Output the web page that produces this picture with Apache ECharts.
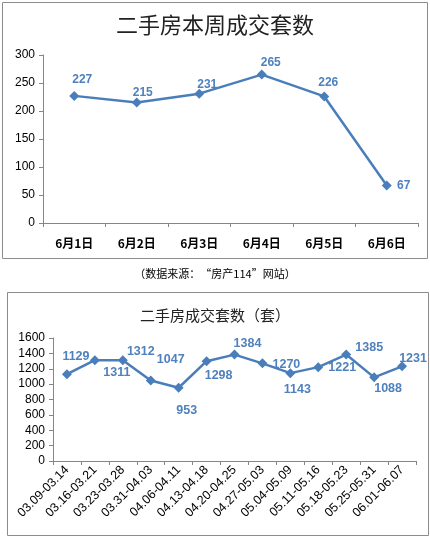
<!DOCTYPE html>
<html>
<head>
<meta charset="utf-8">
<script src="https://cdn.jsdelivr.net/npm/echarts@6/dist/echarts.min.js"></script>
<style>
  html, body { margin: 0; padding: 0; background: #fff; }
  #main { width: 430px; height: 538px; }
</style>
</head>
<body>
<div id="main"></div>
<script>
// 本周数据
const weekDays = ['6月1日', '6月2日', '6月3日', '6月4日', '6月5日', '6月6日'];
const weekDeals = [227, 215, 231, 265, 226, 67];
// 周度数据
const weekRanges = ['03.09-03.14', '03.16-03.21', '03.23-03.28', '03.31-04.03', '04.06-04.11',
  '04.13-04.18', '04.20-04.25', '04.27-05.03', '05.04-05.09', '05.11-05.16',
  '05.18-05.23', '05.25-05.31', '06.01-06.07'];
const rangeDeals = [1129, 1311, 1312, 1047, 953, 1298, 1384, 1270, 1143, 1221, 1385, 1088, 1231];

// 标签偏移（相对数据点）
const topOffsets = [[8, -16], [6, -10], [8, -9], [9, -12], [4, -14], [17, 0]];
const bottomOffsets = [[9, -18], [22, 12], [18, -9], [20, -21], [8, 23], [12, 14], [13, -11],
  [24, 1], [7, 16], [24, 0], [23, -7], [14, 11], [11, -8]];

const blue = '#4a7ebb';
const labelBlue = '#4f81bd';
const axisGray = '#868686';
const font = 'Arial, "Liberation Sans", "Noto Sans CJK SC", sans-serif';

const chart = echarts.init(document.getElementById('main'));

function withLabels(values, offsets, size) {
  return values.map((v, i) => ({
    value: v,
    label: { show: true, position: 'inside', offset: offsets[i], color: labelBlue,
      fontWeight: 'bold', fontSize: size, fontFamily: font }
  }));
}

function catAxis(idx, cats, rotate, fontSize) {
  return {
    type: 'category', gridIndex: idx, data: cats, boundaryGap: true,
    axisLine: { lineStyle: { color: axisGray, width: 1 } },
    axisTick: { show: true, length: 4, interval: 0, lineStyle: { color: axisGray } },
    axisLabel: { color: '#000', fontSize: fontSize, interval: 0, rotate: rotate,
      margin: rotate ? 7 : 14, fontWeight: rotate ? 'normal' : 'bold',
      fontFamily: rotate ? font : '"Noto Sans CJK SC", sans-serif' }
  };
}

function valAxis(idx, max, interval) {
  return {
    type: 'value', gridIndex: idx, min: 0, max: max, interval: interval,
    axisLine: { show: true, lineStyle: { color: axisGray, width: 1 } },
    axisTick: { show: true, length: 4, lineStyle: { color: axisGray } },
    splitLine: { show: false },
    axisLabel: { color: '#000', fontSize: 12, margin: 8, fontFamily: font,
      formatter: v => String(v) }
  };
}

chart.setOption({
  animation: false,
  title: [
    { text: '二手房本周成交套数', left: 'center', top: 9,
      textStyle: { fontSize: 22, fontWeight: 'normal', color: '#222', fontFamily: '"Noto Sans CJK SC", sans-serif' } },
    { text: '二手房成交套数（套）', left: 'center', top: 303,
      textStyle: { fontSize: 15, fontWeight: 'normal', color: '#222', fontFamily: '"Noto Sans CJK SC", sans-serif' } }
  ],
  graphic: [
    { type: 'rect', shape: { x: 2.5, y: 2.5, width: 425, height: 256 },
      style: { fill: 'none', stroke: '#8c8c8c', lineWidth: 1 }, z: -1 },
    { type: 'rect', shape: { x: 7.5, y: 292.5, width: 421, height: 243 },
      style: { fill: 'none', stroke: '#8c8c8c', lineWidth: 1 }, z: -1 },
    { type: 'text', left: 'center', top: 268,
      style: { text: '（数据来源：“房产114”网站）', fontSize: 11, fill: '#000',
        fontFamily: '"Noto Sans CJK SC", sans-serif' } }
  ],
  grid: [
    { left: 43, right: 12, top: 55, bottom: 315 },
    { left: 53, right: 14, top: 338, bottom: 77 }
  ],
  xAxis: [catAxis(0, weekDays, 0, 12), catAxis(1, weekRanges, 45, 12.5)],
  yAxis: [valAxis(0, 300, 50), valAxis(1, 1600, 200)],
  series: [
    { type: 'line', xAxisIndex: 0, yAxisIndex: 0, data: withLabels(weekDeals, topOffsets, 12),
      symbol: 'diamond', symbolSize: 10, lineStyle: { color: blue, width: 2.5 },
      itemStyle: { color: blue } },
    { type: 'line', xAxisIndex: 1, yAxisIndex: 1, data: withLabels(rangeDeals, bottomOffsets, 12.5),
      symbol: 'diamond', symbolSize: 10, lineStyle: { color: blue, width: 2.5 },
      itemStyle: { color: blue } }
  ]
});
</script>
</body>
</html>
